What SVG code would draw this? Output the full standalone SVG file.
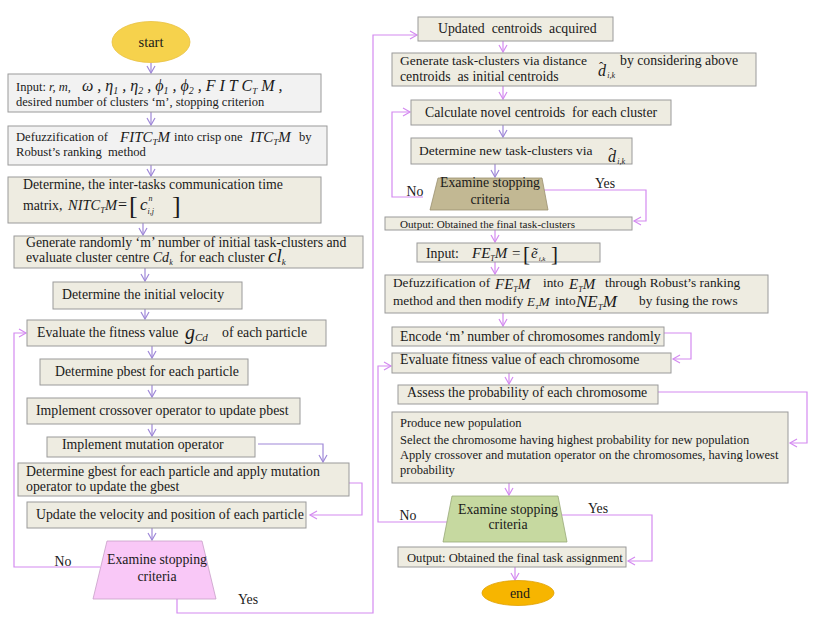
<svg xmlns="http://www.w3.org/2000/svg" width="814" height="622" viewBox="0 0 814 622">
<style>
.bg{fill:#ffffff}
.box{fill:#EEECE1;stroke:#9a9a9a;stroke-width:1}
.gbox{fill:#F2F2F2;stroke:#9a9a9a;stroke-width:1}
.t{font-family:"Liberation Serif","Times New Roman",serif;font-size:13.8px;fill:#1a1a1a}
.m{font-style:italic}
.mm{font-family:"Liberation Serif","Times New Roman",serif;font-style:italic;font-size:15px;fill:#1a1a1a}
.n{font-style:normal}
.c1{stroke:#9F88D8;fill:none;stroke-width:1.2}
.c2{stroke:#D48AF0;fill:none;stroke-width:1.2}
</style>
<defs>
<marker id="a1" markerUnits="userSpaceOnUse" markerWidth="12" markerHeight="12" refX="8" refY="5" orient="auto">
<path d="M1,1 L8,5 L1,9" fill="none" stroke="#9F88D8" stroke-width="1.2"/>
</marker>
<marker id="a2" markerUnits="userSpaceOnUse" markerWidth="12" markerHeight="12" refX="8" refY="5" orient="auto">
<path d="M1,1 L8,5 L1,9" fill="none" stroke="#D48AF0" stroke-width="1.2"/>
</marker>
</defs>
<rect class="bg" x="0" y="0" width="814" height="622"/>

<g id="connectors">
<line class="c1" x1="151" y1="63" x2="151" y2="73" marker-end="url(#a1)"/>
<line class="c1" x1="151" y1="112" x2="151" y2="125" marker-end="url(#a1)"/>
<line class="c1" x1="151" y1="165" x2="151" y2="176" marker-end="url(#a1)"/>
<line class="c1" x1="143" y1="223" x2="143" y2="235" marker-end="url(#a1)"/>
<line class="c1" x1="145" y1="268" x2="145" y2="281" marker-end="url(#a1)"/>
<line class="c1" x1="145" y1="309" x2="145" y2="319" marker-end="url(#a1)"/>
<line class="c1" x1="152" y1="346" x2="152" y2="358" marker-end="url(#a1)"/>
<line class="c1" x1="152" y1="385" x2="152" y2="397" marker-end="url(#a1)"/>
<line class="c1" x1="152" y1="424" x2="152" y2="436" marker-end="url(#a1)"/>
<line class="c1" x1="152" y1="528" x2="152" y2="540" marker-end="url(#a1)"/>
<polyline class="c1" points="258,444 323,444 323,462" marker-end="url(#a1)"/>
<polyline class="c2" points="349,483 362,483 362,515 310,515" marker-end="url(#a2)"/>
<polyline class="c2" points="100,567 14,567 14,333 26,333" marker-end="url(#a2)"/>
<polyline class="c2" points="177,599 177,613 373,613 373,35 417,35" marker-end="url(#a2)"/>
<line class="c2" x1="503" y1="41" x2="503" y2="52" marker-end="url(#a2)"/>
<line class="c2" x1="503" y1="86" x2="503" y2="99" marker-end="url(#a2)"/>
<line class="c1" x1="503" y1="125" x2="503" y2="137" marker-end="url(#a1)"/>
<line class="c1" x1="495" y1="164" x2="495" y2="177" marker-end="url(#a1)"/>
<polyline class="c2" points="423,197 392,197 392,112 410,112" marker-end="url(#a2)"/>
<polyline class="c2" points="544,190 646,190 646,221 634,221" marker-end="url(#a2)"/>
<line class="c2" x1="495" y1="230" x2="495" y2="242" marker-end="url(#a2)"/>
<line class="c2" x1="495" y1="262" x2="495" y2="274" marker-end="url(#a2)"/>
<line class="c2" x1="503" y1="313" x2="503" y2="326" marker-end="url(#a2)"/>
<polyline class="c2" points="664,333 691,333 691,359 673,359" marker-end="url(#a2)"/>
<line class="c2" x1="509" y1="373" x2="509" y2="384" marker-end="url(#a2)"/>
<polyline class="c2" points="658,392 807,392 807,443 790,443" marker-end="url(#a2)"/>
<line class="c2" x1="509" y1="483" x2="509" y2="495" marker-end="url(#a2)"/>
<polyline class="c2" points="448,522 378,522 378,366 391,366" marker-end="url(#a2)"/>
<polyline class="c2" points="562,515 652,515 652,561 628,561" marker-end="url(#a2)"/>
<line class="c2" x1="515" y1="567" x2="515" y2="580" marker-end="url(#a2)"/>
<text class="t" x="63" y="566" text-anchor="middle">No</text>
<text class="t" x="248" y="604" text-anchor="middle">Yes</text>
<text class="t" x="415" y="196" text-anchor="middle">No</text>
<text class="t" x="605" y="188" text-anchor="middle">Yes</text>
<text class="t" x="408" y="520" text-anchor="middle">No</text>
<text class="t" x="598" y="513" text-anchor="middle">Yes</text>
</g>

<g id="start">
<ellipse cx="151" cy="42" rx="39" ry="20.5" fill="#F6D24C" stroke="#E8C040" stroke-width="0.8"/>
<text class="t" style="font-size:14.5px" x="151" y="47" text-anchor="middle">start</text>
</g>

<g id="input">
<rect class="gbox" x="8" y="74" width="313" height="38"/>
<text class="t" style="font-size:12.5px" x="16" y="91">Input: <tspan class="m">r, m,</tspan></text>
<text class="mm" style="font-size:16px" x="82" y="91">ω , η<tspan style="font-size:10px" dy="3">1</tspan><tspan dy="-3"> , η</tspan><tspan style="font-size:10px" dy="3">2</tspan><tspan dy="-3">  , ϕ</tspan><tspan style="font-size:10px" dy="3">1</tspan><tspan dy="-3"> , ϕ</tspan><tspan style="font-size:10px" dy="3">2</tspan><tspan dy="-3"> , F I T C</tspan><tspan style="font-size:9px" dy="3">T</tspan><tspan dy="-3"> M ,</tspan></text>
<text class="t" style="font-size:12.5px" x="16" y="106">desired number of clusters ‘m’, stopping criterion</text>
</g>

<g id="defuzz1">
<rect class="gbox" x="8" y="126" width="319" height="39"/>
<text class="t" style="font-size:12.6px" x="16" y="141">Defuzzification of</text>
<text class="mm" x="120" y="142">FITC<tspan style="font-size:9px" dy="3">T</tspan><tspan dy="-3">M</tspan></text>
<text class="t" style="font-size:12.6px" x="174" y="141">into crisp one</text>
<text class="mm" x="250" y="142">ITC<tspan style="font-size:9px" dy="3">T</tspan><tspan dy="-3">M</tspan></text>
<text class="t" style="font-size:12.6px" x="299" y="141">by</text>
<text class="t" style="font-size:12.6px" x="16" y="156" xml:space="preserve">Robust’s ranking  method</text>
</g>

<g id="nitc">
<rect class="box" x="8" y="177" width="313" height="46"/>
<text class="t" x="23" y="189">Determine, the inter-tasks communication time</text>
<text class="t" x="23" y="210">matrix,</text>
<text class="mm" style="font-size:14.5px" x="68" y="210">NITC<tspan style="font-size:8.5px" dy="3">T</tspan><tspan dy="-3">M</tspan></text>
<text class="t" style="font-size:16px" x="118" y="210">=</text>
<text class="t" style="font-size:26px" x="129" y="214">[</text>
<text class="mm" style="font-size:17px" x="140" y="210">c<tspan style="font-size:8px" dx="1" dy="-9">n</tspan><tspan style="font-size:8px" dx="-5" dy="13">i,j</tspan></text>
<text class="t" style="font-size:26px" x="172" y="214">]</text>
</g>

<g id="gen">
<rect class="box" x="14" y="236" width="349" height="32"/>
<text class="t" x="26" y="247">Generate randomly ‘m’ number of initial task-clusters and</text>
<text class="t" x="26" y="262">evaluate cluster centre <tspan class="m" style="font-size:14px">Cd</tspan><tspan class="m" style="font-size:8px" dy="3">k</tspan><tspan dy="-3" xml:space="preserve">  for each cluster </tspan><tspan class="m" style="font-size:19px">cl</tspan><tspan class="m" style="font-size:9px" dy="3">k</tspan></text>
</g>

<g id="velinit">
<rect class="box" x="53" y="282" width="189" height="27"/>
<text class="t" x="62" y="299">Determine the initial velocity</text>
</g>

<g id="fitness">
<rect class="box" x="27" y="320" width="299" height="26"/>
<text class="t" x="37" y="337">Evaluate the fitness value</text>
<text class="mm" style="font-size:20px" x="185" y="339">g<tspan style="font-size:11px" dy="2">Cd</tspan></text>
<text class="t" x="222" y="337">of each particle</text>
</g>

<g id="pbest">
<rect class="box" x="40" y="359" width="208" height="26"/>
<text class="t" x="55" y="376">Determine pbest for each particle</text>
</g>

<g id="crossover">
<rect class="box" x="27" y="398" width="273" height="26"/>
<text class="t" x="36" y="415">Implement crossover operator to update pbest</text>
</g>

<g id="mutation">
<rect class="box" x="47" y="437" width="208" height="20"/>
<text class="t" x="62" y="449">Implement mutation operator</text>
</g>

<g id="gbest">
<rect class="box" x="18" y="463" width="331" height="33"/>
<text class="t" x="26" y="476">Determine gbest for each particle and apply mutation</text>
<text class="t" x="26" y="491">operator to update the gbest</text>
</g>

<g id="update">
<rect class="box" x="27" y="502" width="279" height="26"/>
<text class="t" x="36" y="519">Update the velocity and position of each particle</text>
</g>

<g id="stop1">
<polygon points="107,541 202,541 216,599 93,599" fill="#F9C8F7" stroke="#C8A0C8" stroke-width="0.8"/>
<text class="t" x="157" y="564" text-anchor="middle">Examine stopping</text>
<text class="t" x="157" y="581" text-anchor="middle">criteria</text>
</g>

<g id="centroids">
<rect class="box" x="418" y="17" width="195" height="24"/>
<text class="t" x="438" y="33" xml:space="preserve">Updated  centroids  acquired</text>
</g>

<g id="genclusters">
<rect class="box" x="392" y="53" width="364" height="33"/>
<text class="t" style="font-size:13.5px" x="400" y="65">Generate task-clusters via distance</text>
<text class="mm" style="font-size:16px" x="598" y="76">d<tspan class="n" style="font-size:13px" dx="-7" dy="-5">ˆ</tspan><tspan style="font-size:8px" dx="4" dy="7">i,k</tspan></text>
<text class="t" x="620" y="65">by considering above</text>
<text class="t" x="400" y="81" xml:space="preserve">centroids  as initial centroids</text>
</g>

<g id="novel">
<rect class="box" x="411" y="100" width="260" height="25"/>
<text class="t" x="425" y="117" xml:space="preserve">Calculate novel centroids  for each cluster</text>
</g>

<g id="newclusters">
<rect class="box" x="411" y="138" width="221" height="26"/>
<text class="t" style="font-size:13.5px" x="419" y="155">Determine new task-clusters via</text>
<text class="mm" style="font-size:16px" x="608" y="162">d<tspan class="n" style="font-size:13px" dx="-7" dy="-5">ˆ</tspan><tspan style="font-size:8px" dx="4" dy="7">i,k</tspan></text>
</g>

<g id="stop2">
<polygon points="438,178 542,178 548,210 430,210" fill="#C2B893" stroke="#9a9070" stroke-width="0.8"/>
<text class="t" x="490" y="187" text-anchor="middle">Examine stopping</text>
<text class="t" x="490" y="204" text-anchor="middle">criteria</text>
</g>

<g id="out1">
<rect class="box" x="385" y="217" width="247" height="13"/>
<text class="t" style="font-size:11.1px" x="400" y="227.5">Output: Obtained the final task-clusters</text>
</g>

<g id="inputfe">
<rect class="box" x="417" y="243" width="183" height="19"/>
<text class="t" x="426" y="258">Input:</text>
<text class="mm" x="472" y="258">FE<tspan style="font-size:8px" dy="3">T</tspan><tspan dy="-3">M</tspan></text>
<text class="t" style="font-size:15px" x="512" y="258">=</text>
<text class="t" style="font-size:21px" x="523" y="261">[</text>
<text class="mm" x="531" y="258">ẽ<tspan style="font-size:7px" dx="1" dy="3">i,k</tspan></text>
<text class="t" style="font-size:21px" x="551" y="261">]</text>
</g>

<g id="defuzz2">
<rect class="box" x="385" y="275" width="383" height="38"/>
<text class="t" style="font-size:13.3px" x="393" y="287">Defuzzification of</text>
<text class="mm" x="495" y="289">FE<tspan style="font-size:8px" dy="3">T</tspan><tspan dy="-3">M</tspan></text>
<text class="t" style="font-size:13.3px" x="543" y="287">into</text>
<text class="mm" x="569" y="289">E<tspan style="font-size:8px" dy="3">T</tspan><tspan dy="-3">M</tspan></text>
<text class="t" style="font-size:13.3px" x="605" y="287">through Robust’s ranking</text>
<text class="t" style="font-size:13.3px" x="393" y="305">method and then modify</text>
<text class="mm" style="font-size:13px" x="527" y="306">E<tspan style="font-size:7px" dy="3">T</tspan><tspan dy="-3">M</tspan></text>
<text class="t" style="font-size:13.3px" x="555" y="305">into</text>
<text class="mm" style="font-size:17px" x="576" y="307">NE<tspan style="font-size:9px" dy="3">T</tspan><tspan dy="-3">M</tspan></text>
<text class="t" style="font-size:13.3px" x="639" y="305">by fusing the rows</text>
</g>

<g id="encode">
<rect class="box" x="392" y="327" width="272" height="19"/>
<text class="t" x="400" y="341">Encode ‘m’ number of chromosomes randomly</text>
</g>

<g id="evalchrom">
<rect class="box" x="392" y="353" width="279" height="20"/>
<text class="t" x="400" y="364">Evaluate fitness value of each chromosome</text>
</g>

<g id="assess">
<rect class="box" x="398" y="385" width="260" height="19"/>
<text class="t" x="407" y="397">Assess the probability of each chromosome</text>
</g>

<g id="produce">
<rect class="box" x="392" y="412" width="396" height="71"/>
<text class="t" style="font-size:12.5px" x="400" y="427">Produce new population</text>
<text class="t" style="font-size:12.5px" x="400" y="444">Select the chromosome having highest probability for new population</text>
<text class="t" style="font-size:12.5px" x="400" y="459">Apply crossover and mutation operator on the chromosomes, having lowest</text>
<text class="t" style="font-size:12.5px" x="400" y="474">probability</text>
</g>

<g id="stop3">
<polygon points="452,496 558,496 567,542 443,542" fill="#C6D9A0" stroke="#98A878" stroke-width="0.8"/>
<text class="t" x="508" y="514" text-anchor="middle">Examine stopping</text>
<text class="t" x="508" y="529" text-anchor="middle">criteria</text>
</g>

<g id="out2">
<rect class="box" x="398" y="547" width="228" height="20"/>
<text class="t" style="font-size:12.6px" x="407" y="562">Output: Obtained the final task assignment</text>
</g>

<g id="end">
<ellipse cx="518" cy="593" rx="36" ry="12.5" fill="#F7B500" stroke="#E0A000" stroke-width="0.8"/>
<text class="t" style="font-size:14px" x="520" y="598" text-anchor="middle">end</text>
</g>
</svg>
